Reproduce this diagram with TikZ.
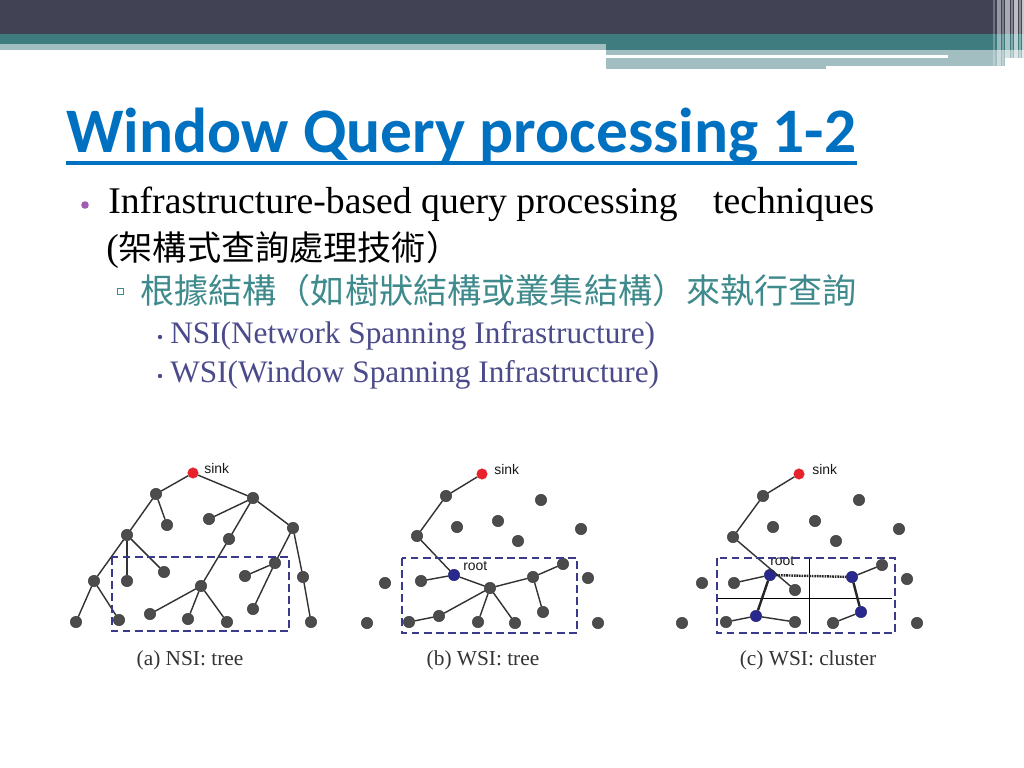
\documentclass[tikz,border=0pt]{standalone}
\usepackage{fontspec}
\setmainfont{Liberation Serif}
\newfontfamily\titlefont{Carlito}
\newfontfamily\cjk{Noto Sans CJK TC}
\newfontfamily\lblfont{Liberation Sans}
\usetikzlibrary{positioning}

\definecolor{hdrdark}{HTML}{414253}
\definecolor{hdrteal}{HTML}{3F7C80}
\definecolor{hdrlight}{HTML}{A3BEC1}
\definecolor{titleblue}{HTML}{0070C0}
\definecolor{bulpurple}{HTML}{A05CB0}
\definecolor{subteal}{HTML}{3E8A8C}
\definecolor{subslate}{HTML}{4B4B8B}
\definecolor{boxblue}{HTML}{3A3A8C}
\definecolor{nodegray}{HTML}{4C4C4C}
\definecolor{noderoot}{HTML}{28288E}
\definecolor{nodesink}{HTML}{E8222A}

\tikzset{
  sensor/.style={circle, fill=nodegray, draw=black!80, line width=0.3pt,
    inner sep=0pt, minimum size=8pt},
  rootnode/.style={sensor, fill=noderoot, draw=noderoot!70!black},
  sinknode/.style={sensor, fill=nodesink, draw=nodesink, minimum size=7.4pt},
  link/.style={draw=black!80, line width=1pt},
  clink/.style={draw=black!85, line width=1.7pt},
  window/.style={draw=boxblue, line width=1.4pt, dash pattern=on 5.5pt off 3pt},
  tag/.style={font=\lblfont\fontsize{9.8}{10}\selectfont, inner sep=0pt,
    text=black!90, anchor=base west},
  caption/.style={font=\fontsize{15}{15}\selectfont, text=black!80},
  line/.style={anchor=base west, inner sep=0pt}
}

\begin{document}
\begin{tikzpicture}[x=0.703125pt, y=-0.703125pt]
\useasboundingbox (0,0) rectangle (1024,768);
\fill[white] (0,0) rectangle (1024,768);

% header bands
\fill[hdrdark] (0,0) rectangle (1024,34);
\fill[hdrteal] (0,34) rectangle (1024,44);
\fill[hdrteal] (606,44) rectangle (1024,50);
\fill[hdrlight] (0,44) rectangle (606,50);
\fill[hdrlight] (606,50) rectangle (1024,58);
\fill[white] (606,55) rectangle (948,58);
\fill[hdrlight] (606,58) rectangle (826,69);
\fill[hdrlight] (826,58) rectangle (1005,66);
\foreach \xa/\xb/\op in {993/995/.25, 997/1001/.45, 1002/1004/.3, 1005/1010/.55,
  1011/1013/.35, 1014/1018/.65, 1019/1021/.4, 1022/1024/.7}
  \fill[white, opacity=\op] (\xa,0) rectangle (\xb,69);

% title
\node[line, font=\titlefont\bfseries\fontsize{44.6}{44.6}\selectfont, text=titleblue]
  (title) at (66,153) {Window Query processing 1-2};
\draw[titleblue, line width=2.2pt] ([yshift=-7pt]title.base west) -- ([yshift=-7pt]title.base east);

% text
\fill[bulpurple] (85,205) circle (3.8);
\node[line, font=\fontsize{26.5}{26.5}\selectfont] (l1) at (108,214)
  {Infrastructure-based query processing\hspace{25pt}techniques};
\node[line, font=\fontsize{26.5}{26.5}\selectfont] (l2) at (106,261)
  {(\cjk\fontsize{24}{24}\selectfont 架構式查詢處理技術）};
\draw[subteal, line width=0.6pt] (117.5,288) rectangle (123.5,294);
\node[line, text=subteal, font=\cjk\fontsize{24}{24}\selectfont] (l3) at (140,303)
  {根據結構（如樹狀結構或叢集結構）來執行查詢};
\fill[subslate] (160,337) circle (2.2);
\node[line, text=subslate, font=\fontsize{22}{22}\selectfont] (l4) at (170,343)
  {NSI(Network Spanning Infrastructure)};
\fill[subslate] (160,376) circle (2.2);
\node[line, text=subslate, font=\fontsize{22}{22}\selectfont] (l5) at (170,382)
  {WSI(Window Spanning Infrastructure)};

% (a) NSI: tree
\node[sinknode] (as) at (193,473) {};
\foreach \n/\x/\y in {a1/156/494, a2/253/498, a3/167/525, a4/209/519, a5/293/528,
  a6/127/535, a7/229/539, a8/275/563, a9/164/572, a10/127/581, a11/245/576,
  a12/94/581, a13/201/586, a14/303/577, a15/253/609, a16/76/622, a17/119/620,
  a18/150/614, a19/188/619, a20/227/622, a21/311/622}
  \node[sensor] (\n) at (\x,\y) {};
\foreach \u/\v in {as/a1, as/a2, a1/a3, a1/a6, a2/a4, a2/a7, a2/a5, a7/a13,
  a6/a10, a6/a9, a6/a12, a12/a16, a12/a17, a13/a18, a13/a19, a13/a20,
  a5/a8, a5/a14, a8/a11, a8/a15, a14/a21}
  \draw[link] (\u) -- (\v);
\node[tag] (ast) at (204,473) {sink};
\draw[window] (112,557) rectangle (289,631);
\node[caption] (acap) at (190,660) {(a) NSI: tree};

% (b) WSI: tree
\node[sinknode] (bs) at (482,474) {};
\node[rootnode] (br) at (454,575) {};
\foreach \n/\x/\y in {b1/446/496, b2/541/500, b3/457/527, b4/498/521, b5/581/529,
  b6/417/536, b7/518/541, b8/563/564, b9/421/581, b10/385/583, b11/533/577,
  b12/588/578, b13/490/588, b14/543/612, b15/367/623, b16/409/622, b17/439/616,
  b18/478/622, b19/515/623, b20/598/623}
  \node[sensor] (\n) at (\x,\y) {};
\foreach \u/\v in {bs/b1, b1/b6, b6/br, br/b9, br/b13, b13/b11, b11/b8, b11/b14,
  b13/b17, b17/b16, b13/b18, b13/b19}
  \draw[link] (\u) -- (\v);
\node[tag] (bst) at (494,474) {sink};
\node[tag] (brt) at (463,570) {root};
\draw[window] (402,558) rectangle (577,633);
\node[caption] (bcap) at (483,660) {(b) WSI: tree};

% (c) WSI: cluster
\draw[black, line width=0.6pt] (717,598) -- (892,598);
\draw[black, line width=0.6pt] (809,558) -- (809,633);
\node[sinknode] (cs) at (799,474) {};
\foreach \n/\x/\y in {cr/770/575, cb/852/577, cc/756/616, cd/861/612}
  \node[rootnode] (\n) at (\x,\y) {};
\foreach \n/\x/\y in {c1/763/496, c2/859/500, c3/773/527, c4/815/521, c5/899/529,
  c6/733/537, c7/836/541, c8/882/565, c9/734/583, c10/702/583, c11/907/579,
  c12/795/590, c13/682/623, c14/726/622, c15/795/622, c16/833/623, c17/917/623}
  \node[sensor] (\n) at (\x,\y) {};
\foreach \u/\v in {cs/c1, c1/c6, c6/c12, cr/c9, cc/c14, cc/c15, cb/c8, cd/c16}
  \draw[link] (\u) -- (\v);
\draw[clink] (cr) -- (cc);
\draw[clink] (cb) -- (cd);
\draw[clink, dash pattern=on 1.2pt off 0.6pt] (cr) -- (cb);
\node[tag] (cst) at (812,474) {sink};
\node[tag] (crt) at (770,565) {root};
\draw[window] (717,558) rectangle (895,633);
\node[caption] (ccap) at (808,660) {(c) WSI: cluster};

\end{tikzpicture}
\end{document}
